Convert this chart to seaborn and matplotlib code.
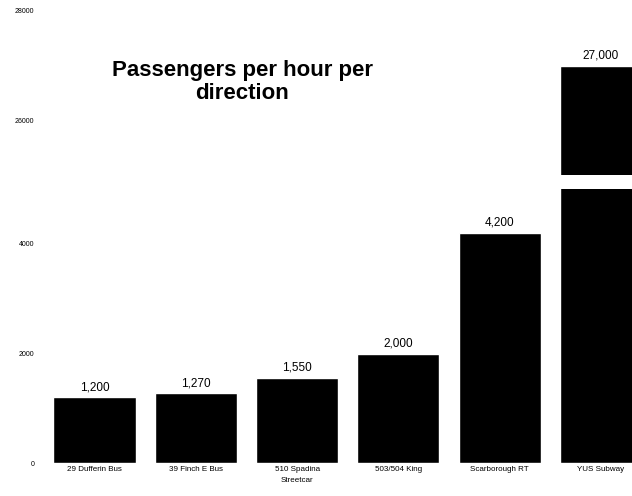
import matplotlib
matplotlib.use("Agg")
import matplotlib.pyplot as plt
import seaborn as sns
import pandas as pd

routes = ["29 Dufferin Bus", "39 Finch E Bus", "510 Spadina\nStreetcar",
          "503/504 King", "Scarborough RT", "YUS Subway"]
passengers = [1200, 1270, 1550, 2000, 4200, 27000]
low_ticks = [0, 2000, 4000]
high_ticks = [26000, 28000]

df = pd.DataFrame({"route": routes, "passengers": passengers})

sns.set_theme(style="white")
plt.rcParams["font.family"] = ["Liberation Sans", "DejaVu Sans"]

fig = plt.figure(figsize=(6.32, 4.96), dpi=100)
W, H = 632, 496

def px_axes(left, top, right, bottom):
    return fig.add_axes([left / W, 1 - bottom / H, (right - left) / W, (bottom - top) / H])

# broken value axis: lower panel 0-5000, upper panel 25000-28000
ax_low = px_axes(44, 189.25, 632, 463)
ax_high = px_axes(44, 10.75, 632, 175)

xlim = (-0.4985, 5.306)
for ax in (ax_low, ax_high):
    sns.barplot(data=df, x="route", y="passengers", color="black",
                width=0.81, saturation=1, ax=ax)
    ax.set_xlim(*xlim)
    ax.set_xlabel("")
    ax.set_ylabel("")
    for s in ax.spines.values():
        s.set_visible(False)
    ax.tick_params(axis="y", length=0, pad=7, labelsize=5, colors="black")

ax_low.set_ylim(0, 5000)
ax_low.set_yticks(low_ticks)
ax_low.set_yticklabels([str(t) for t in low_ticks])
ax_low.tick_params(axis="x", length=0, pad=2, labelsize=5.8, colors="black")
for lbl in ax_low.get_xticklabels():
    lbl.set_linespacing(1.9)
    lbl.set_verticalalignment("top")

ax_high.set_ylim(25000, 28000)
ax_high.set_yticks(high_ticks)
ax_high.set_yticklabels([str(t) for t in high_ticks])
ax_high.set_xticks([])

fmt = lambda v: f"{v:,.0f}"
low_labels = [fmt(v) if v < 5000 else "" for v in passengers]
high_labels = [fmt(v) if v >= 25000 else "" for v in passengers]
ax_low.bar_label(ax_low.containers[0], labels=low_labels, padding=3,
                 fontsize=8.5, color="black")
ax_high.bar_label(ax_high.containers[0], labels=high_labels, padding=3,
                  fontsize=8.5, color="black")

fig.text(242 / W, 1 - 82 / H, "Passengers per hour per\ndirection", ha="center",
         va="center", fontsize=16, fontweight="bold", linespacing=1.1,
         color="black")

fig.savefig("out.png", dpi=100)
